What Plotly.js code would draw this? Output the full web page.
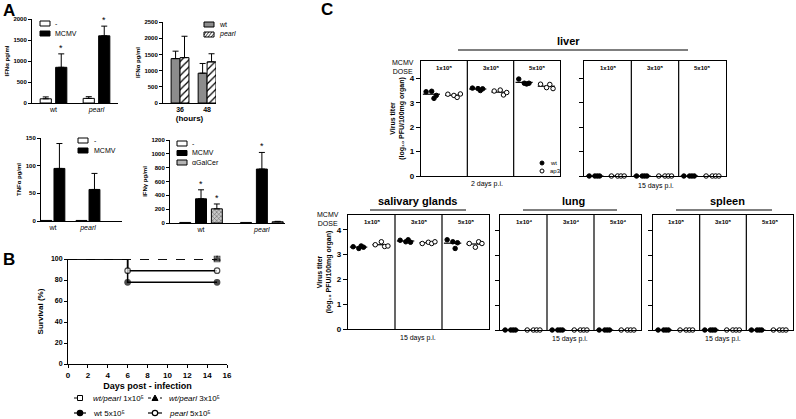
<!DOCTYPE html>
<html>
<head>
<meta charset="utf-8">
<script src="https://cdn.plot.ly/plotly-3.0.1.min.js"></script>
<style>
html,body{margin:0;padding:0;background:#fff;}
#chart{width:796px;height:419px;}
</style>
</head>
<body>
<div id="chart"></div>
<script>
// ================= DATA =================
// Panel A, top left: IFN-alpha (pg/ml)
const ifnaGroups = ['wt', 'pearl'];
const ifnaSeries = ['-', 'MCMV'];
const ifnaMock = [100, 110];
const ifnaMockErr = [45, 40];
const ifnaMcmv = [850, 1600];
const ifnaMcmvErr = [320, 230];
const ifnaMcmvSig = [true, true];

// Panel A, top right: IFN-alpha at 36 / 48 hours
const hoursCats = ['36', '48'];
const hoursSeries = ['wt', 'pearl'];
const hoursWt = [1370, 920];
const hoursWtErr = [230, 300];
const hoursPearl = [1400, 1270];
const hoursPearlErr = [660, 250];

// Panel A, bottom left: TNF-alpha (pg/ml)
const tnfGroups = ['wt', 'pearl'];
const tnfSeries = ['-', 'MCMV'];
const tnfMock = [1, 1];
const tnfMcmv = [95, 57];
const tnfMcmvErr = [45, 29];

// Panel A, bottom right: IFN-gamma (pg/ml)
const ifngGroups = ['wt', 'pearl'];
const ifngSeries = ['-', 'MCMV', 'αGalCer'];
const ifngMock = [8, 8];
const ifngMcmv = [350, 780];
const ifngMcmvErr = [130, 240];
const ifngGalcer = [205, 18];
const ifngGalcerErr = [70, 6];
const ifngMcmvSig = [true, true];
const ifngGalcerSig = [true, false];

// Panel B: survival (%)
const survDays = [0, 6, 15];
const survNames = ['<i>wt/pearl</i> 1x10⁵', '<i>wt/pearl</i> 3x10⁵', 'wt 5x10⁵', '<i>pearl</i> 5x10⁵'];
const survWtPearl1 = [100, 100, 100];
const survWtPearl3 = [100, 100, 100];
const survWt5 = [100, 77.8, 77.8];
const survPearl5 = [100, 88.9, 88.9];

// Panel C: virus titer (log10 PFU/100mg organ), 4 mice per group
const cSeries = ['wt', 'ap3'];
const dosesE5 = ['1x10⁵', '3x10⁵', '5x10⁵'];
const dosesE4 = ['1x10⁴', '3x10⁴', '5x10⁴'];
const liver2dWt  = [[3.45, 3.47, 3.18, 3.30], [3.60, 3.58, 3.50, 3.57], [3.97, 3.80, 3.77, 3.80]];
const liver2dAp3 = [[3.35, 3.30, 3.22, 3.36], [3.48, 3.52, 3.32, 3.42], [3.76, 3.62, 3.75, 3.58]];
const liver15Wt  = [[0, 0, 0, 0], [0, 0, 0, 0], [0, 0, 0, 0]];
const liver15Ap3 = [[0, 0, 0, 0], [0, 0, 0, 0], [0, 0, 0, 0]];
const salivaryWt  = [[3.32, 3.25, 3.35, 3.30], [3.58, 3.52, 3.60, 3.50], [3.60, 3.52, 3.25, 3.48]];
const salivaryAp3 = [[3.40, 3.52, 3.33, 3.35], [3.45, 3.50, 3.45, 3.52], [3.45, 3.30, 3.52, 3.45]];
const lungWt  = [[0, 0, 0, 0], [0, 0, 0, 0], [0, 0, 0, 0]];
const lungAp3 = [[0, 0, 0, 0], [0, 0, 0, 0], [0, 0, 0, 0]];
const spleenWt  = [[0, 0, 0, 0], [0, 0, 0, 0], [0, 0, 0, 0]];
const spleenAp3 = [[0, 0, 0, 0], [0, 0, 0, 0], [0, 0, 0, 0]];

// ================= HELPERS =================
const W = 796, H = 419;
const px = v => v / W;
const py = v => 1 - v / H;
const FONT = '"Liberation Sans", Arial, sans-serif';
const BLACK = '#000';
const ital = g => (g === 'pearl' ? '<i>pearl</i>' : g);
const mean = a => a.reduce((s, v) => s + v, 0) / a.length;
const f = (size, bold) => (bold ? {family: FONT, size: size, weight: 'bold', color: BLACK} : {family: FONT, size: size, color: BLACK});

const traces = [];
const shapes = [];
const annotations = [];

function note(x, y, text, opt) {
  annotations.push(Object.assign({
    xref: 'paper', yref: 'paper', x: px(x), y: py(y), text: text, showarrow: false,
    xanchor: 'center', yanchor: 'middle', font: f(7)
  }, opt || {}));
}
function keyRect(x0, y0, x1, y1, fill) {
  shapes.push({type: 'rect', xref: 'paper', yref: 'paper', x0: px(x0), x1: px(x1), y0: py(y1), y1: py(y0),
    fillcolor: fill, line: {color: BLACK, width: 1}});
}
function pline(x0, y0, x1, y1, w, dash) {
  shapes.push({type: 'line', xref: 'paper', yref: 'paper', x0: px(x0), x1: px(x1), y0: py(y0), y1: py(y1),
    line: {color: BLACK, width: w || 1, dash: dash || 'solid'}});
}

function bar(xa, ya, cats, vals, errs, style, offset, width) {
  const t = {
    type: 'bar', xaxis: xa, yaxis: ya, x: cats, y: vals, offset: offset, width: width,
    showlegend: false, hoverinfo: 'skip',
    marker: Object.assign({line: {color: BLACK, width: 1}}, style)
  };
  if (errs) t.error_y = {type: 'data', symmetric: false, array: errs, arrayminus: errs.map(() => 0),
    color: BLACK, thickness: 1, width: 3};
  traces.push(t);
}
function stars(xa, ya, vals, errs, sig, offset, width) {
  vals.forEach((v, i) => {
    if (!sig[i]) return;
    annotations.push({xref: xa, yref: ya, x: i + offset + width / 2, y: v + errs[i], text: '*',
      showarrow: false, yanchor: 'bottom', yshift: -1, font: f(9)});
  });
}

const baseAxis = {
  showgrid: false, zeroline: false, showline: true, linecolor: BLACK, linewidth: 1,
  ticks: 'outside', ticklen: 3, tickwidth: 1, tickcolor: BLACK, fixedrange: true,
  tickfont: f(6, true)
};
const ax = o => Object.assign({}, baseAxis, o);
const catAxis = (dom, range, cats, anchor) => ax({
  anchor: anchor, domain: [px(dom[0]), px(dom[1])], type: 'category', range: range, ticks: '',
  tickvals: cats, ticktext: cats.map(ital), tickfont: f(7)
});
const valAxis = (dom, range, dtick, title, anchor) => ax({
  anchor: anchor, domain: [py(dom[1]), py(dom[0])], range: range, dtick: dtick,
  tickfont: f(6, true), title: {text: title, standoff: 3, font: f(6, true)}
});

const layout = {
  width: W, height: H, margin: {l: 0, r: 0, t: 0, b: 0},
  paper_bgcolor: '#fff', plot_bgcolor: 'rgba(0,0,0,0)',
  showlegend: false, barmode: 'overlay', font: {family: FONT, color: BLACK}
};

// ================= PANEL A1: IFN-alpha =================
{
  const w = 0.26, g = 0.10;
  layout.xaxis = catAxis([32, 118], [-0.5, 1.5], ifnaGroups, 'y');
  layout.yaxis = valAxis([19, 103], [0, 2000], 500, 'IFNα pg/ml', 'x');
  bar('x', 'y', ifnaGroups, ifnaMock, ifnaMockErr, {color: '#fff'}, -(w + g / 2), w);
  bar('x', 'y', ifnaGroups, ifnaMcmv, ifnaMcmvErr, {color: BLACK}, g / 2, w);
  stars('x', 'y', ifnaMcmv, ifnaMcmvErr, ifnaMcmvSig, g / 2, w);
  const fills = ['#fff', BLACK];
  ifnaSeries.forEach((s, i) => {
    keyRect(40, 21 + i * 10, 50, 26 + i * 10, fills[i]);
    note(53, 23.5 + i * 10, s, {xanchor: 'left', font: f(7)});
  });
}

// ================= PANEL A2: IFN-alpha time course =================
{
  const w = 0.33;
  layout.xaxis2 = catAxis([163, 216], [-0.63, 1.33], hoursCats, 'y2');
  layout.xaxis2.tickfont = f(7, true);
  layout.xaxis2.title = {text: '(hours)', standoff: 2, font: f(8, true)};
  layout.yaxis2 = valAxis([22, 103], [0, 2500], 500, 'IFNα pg/ml', 'x2');
  bar('x2', 'y2', hoursCats, hoursWt, hoursWtErr, {color: '#8c8c8c'}, -w, w);
  bar('x2', 'y2', hoursCats, hoursPearl, hoursPearlErr,
    {color: '#fff', pattern: {shape: '/', fgcolor: BLACK, bgcolor: '#fff', size: 5, solidity: 0.25}}, 0, w);
  keyRect(204, 22, 214, 27, '#8c8c8c');
  keyRect(204, 32, 214, 37, '#fff');
  shapes.push({type: 'path', xref: 'paper', yref: 'paper',
    path: [[204, 35, 206, 32], [205, 37, 209, 32], [208, 37, 212, 32], [211, 37, 214, 33.5]]
      .map(s => `M${px(s[0])},${py(s[1])}L${px(s[2])},${py(s[3])}`).join(''),
    line: {color: BLACK, width: 0.8}});
  hoursSeries.forEach((s, i) => note(217, 24.5 + i * 10, ital(s), {xanchor: 'left'}));
}

// ================= PANEL A3: TNF-alpha =================
{
  const w = 0.31, g = 0.06;
  layout.xaxis3 = catAxis([41, 122], [-0.34, 1.97], tnfGroups, 'y3');
  layout.yaxis3 = valAxis([138, 221], [0, 150], 50, 'TNFα pg/ml', 'x3');
  bar('x3', 'y3', tnfGroups, tnfMock, null, {color: '#fff'}, -(w + g / 2), w);
  bar('x3', 'y3', tnfGroups, tnfMcmv, tnfMcmvErr, {color: BLACK}, g / 2, w);
  const fills = ['#fff', BLACK];
  tnfSeries.forEach((s, i) => {
    keyRect(78, 138 + i * 10, 88, 143 + i * 10, fills[i]);
    note(92, 140.5 + i * 10, s, {xanchor: 'left'});
  });
}

// ================= PANEL A4: IFN-gamma =================
{
  const w = 0.18, step = 0.26;
  layout.xaxis4 = catAxis([170, 285], [-0.51, 1.38], ifngGroups, 'y4');
  layout.yaxis4 = valAxis([140, 223], [0, 1200], 200, 'IFNγ pg/ml', 'x4');
  const galStyle = {color: '#b4b4b4', pattern: {shape: 'x', fgcolor: '#555', bgcolor: '#c8c8c8', size: 3, solidity: 0.3}};
  bar('x4', 'y4', ifngGroups, ifngMock, null, {color: '#fff'}, -w / 2 - step, w);
  bar('x4', 'y4', ifngGroups, ifngMcmv, ifngMcmvErr, {color: BLACK}, -w / 2, w);
  bar('x4', 'y4', ifngGroups, ifngGalcer, ifngGalcerErr, galStyle, -w / 2 + step, w);
  stars('x4', 'y4', ifngMcmv, ifngMcmvErr, ifngMcmvSig, -w / 2, w);
  stars('x4', 'y4', ifngGalcer, ifngGalcerErr, ifngGalcerSig, -w / 2 + step, w);
  const fills = ['#fff', BLACK, '#b4b4b4'];
  ifngSeries.forEach((s, i) => {
    keyRect(177, 141 + i * 9.5, 187, 146 + i * 9.5, fills[i]);
    note(190, 143.5 + i * 9.5, s, {xanchor: 'left'});
  });
}

// ================= PANEL B: survival =================
{
  layout.xaxis5 = ax({anchor: 'y5', domain: [px(68), px(227)], range: [0, 16], dtick: 2,
    tickfont: f(8, true), title: {text: 'Days post - infection', standoff: 4, font: f(9, true)}});
  layout.yaxis5 = ax({anchor: 'x5', domain: [py(364), py(259)], range: [0, 100], dtick: 20,
    tickfont: f(7, true), title: {text: 'Survival (%)', standoff: 6, font: f(8, true)}});
  const specs = [
    {y: survWtPearl1, dash: 'dash', symbol: 'square-open', color: BLACK},
    {y: survWtPearl3, dash: 'dash', symbol: 'triangle-up', color: BLACK},
    {y: survWt5, dash: 'solid', symbol: 'circle', color: BLACK},
    {y: survPearl5, dash: 'solid', symbol: 'circle', color: '#fff'}
  ];
  specs.forEach((s, k) => {
    const sizes = s.y.map((v, i) => (i === 0 ? 0 : (i === s.y.length - 1 || v !== s.y[i - 1]) ? 5.5 : 0));
    traces.push({type: 'scatter', mode: 'lines+markers', xaxis: 'x5', yaxis: 'y5', x: survDays, y: s.y,
      name: survNames[k], showlegend: false, cliponaxis: false, hoverinfo: 'skip',
      line: {shape: 'hv', color: BLACK, width: 1.5, dash: s.dash},
      marker: {symbol: s.symbol, size: sizes, color: s.color, line: {color: BLACK, width: 1.2}}});
  });
  // legend (two columns)
  const cols = [[74, 86, 91], [148, 162, 167]];
  const rows = [398, 413];
  const order = [[0, 0, 0], [1, 1, 0], [2, 0, 1], [3, 1, 1]]; // series, col, row
  order.forEach(o => {
    const [si, ci, ri] = o;
    const [x0, x1, tx] = cols[ci];
    const y = rows[ri];
    const mx = (x0 + x1) / 2;
    pline(x0, y, x1, y, 1.2, si < 2 ? 'dot' : 'solid');
    if (si === 0) keyRect(mx - 2.5, y - 2.5, mx + 2.5, y + 2.5, '#fff');
    if (si === 1) shapes.push({type: 'path', xref: 'paper', yref: 'paper', fillcolor: BLACK, line: {color: BLACK, width: 1},
      path: `M${px(mx - 3)},${py(y + 2.5)}L${px(mx + 3)},${py(y + 2.5)}L${px(mx)},${py(y - 3)}Z`});
    if (si >= 2) shapes.push({type: 'circle', xref: 'paper', yref: 'paper', x0: px(mx - 2.7), x1: px(mx + 2.7),
      y0: py(y + 2.7), y1: py(y - 2.7), fillcolor: si === 2 ? BLACK : '#fff', line: {color: BLACK, width: 1.2}});
    note(tx, y, survNames[si], {xanchor: 'left', font: f(8)});
  });
}

// ================= PANEL C: virus titers =================
const wtX = [1.1, 2.3, 2.8, 3.3];
const apX = [5.8, 7.1, 7.8, 8.5];
const cPanels = [
  {n: 6, x: [421, 560], y: [61, 176], top: 4.71, labels: true, doses: dosesE5, wt: liver2dWt, ap: liver2dAp3},
  {n: 7, x: [584, 726], y: [61, 176], top: 4.71, labels: false, doses: dosesE5, wt: liver15Wt, ap: liver15Ap3},
  {n: 8, x: [348, 489], y: [215, 329], top: 4.6, labels: true, doses: dosesE5, wt: salivaryWt, ap: salivaryAp3},
  {n: 9, x: [500, 641], y: [215, 330], top: 4.6, labels: false, doses: dosesE4, wt: lungWt, ap: lungAp3},
  {n: 10, x: [653, 793], y: [215, 330], top: 4.6, labels: false, doses: dosesE5, wt: spleenWt, ap: spleenAp3}
];
cPanels.forEach(p => {
  const xa = 'x' + p.n, ya = 'y' + p.n;
  layout['xaxis' + p.n] = ax({anchor: ya, domain: [px(p.x[0]), px(p.x[1])], range: [0, 30],
    ticks: '', showticklabels: false, mirror: true, linewidth: 1.2});
  const yax = ax({anchor: xa, domain: [py(p.y[1]), py(p.y[0])], range: [0, p.top], dtick: 1,
    ticklen: 4, mirror: true, linewidth: 1.2, showticklabels: p.labels, tickfont: f(8, true)});
  if (p.labels) yax.title = {text: 'Virus titer<br>(log₁₀ PFU/100mg organ)', standoff: 4, font: f(7, true)};
  layout['yaxis' + p.n] = yax;
  [10, 20].forEach(d => shapes.push({type: 'line', xref: xa, yref: ya + ' domain', x0: d, x1: d, y0: 0, y1: 1,
    line: {color: BLACK, width: 1.2}}));
  p.doses.forEach((d, i) => annotations.push({xref: xa, yref: ya + ' domain', x: i * 10 + 5, y: 0.985,
    yanchor: 'top', showarrow: false, text: d, font: f(6, true)}));
  for (let i = 0; i < 3; i++) {
    const base = i * 10;
    const groups = [
      {vals: p.wt[i], xs: wtX, fill: BLACK, lx: [0.4, 4.1]},
      {vals: p.ap[i], xs: apX, fill: '#fff', lx: [5.2, 8.9]}
    ];
    groups.forEach(g => {
      const m = mean(g.vals);
      traces.push({type: 'scatter', mode: 'lines', xaxis: xa, yaxis: ya, x: [base + g.lx[0], base + g.lx[1]], y: [m, m],
        showlegend: false, hoverinfo: 'skip', cliponaxis: false, line: {color: BLACK, width: 1.2}});
      traces.push({type: 'scatter', mode: 'markers', xaxis: xa, yaxis: ya, x: g.xs.map(v => base + v), y: g.vals,
        showlegend: false, hoverinfo: 'skip', cliponaxis: false,
        marker: {symbol: 'circle', size: 4.5, color: g.fill, line: {color: BLACK, width: 1}}});
    });
  }
});
// headings & notes for C
const organs = [
  {t: 'liver', cx: 568, y: 50, l: 458, r: 688},
  {t: 'salivary glands', cx: 418, y: 210, l: 370, r: 466},
  {t: 'lung', cx: 573, y: 210, l: 523, r: 617},
  {t: 'spleen', cx: 727, y: 210, l: 676, r: 772}
];
organs.forEach(o => {
  note(o.cx, o.y - 1, o.t, {yanchor: 'bottom', font: f(11, true)});
  pline(o.l, o.y, o.r, o.y, 1.2);
});
note(487, 184, '2 days p.i.', {font: f(7)});
note(656, 186, '15 days p.i.', {font: f(7)});
note(418, 338, '15 days p.i.', {font: f(7)});
note(570, 339, '15 days p.i.', {font: f(7)});
note(723, 339, '15 days p.i.', {font: f(7)});
note(403, 67, 'MCMV<br>DOSE', {font: f(7)});
note(328, 219, 'MCMV<br>DOSE', {font: f(7)});
// C legend (wt / ap3)
cSeries.forEach((s, i) => {
  const y = 163 + i * 8;
  shapes.push({type: 'circle', xref: 'paper', yref: 'paper', x0: px(540), x1: px(544), y0: py(y + 2), y1: py(y - 2),
    fillcolor: i === 0 ? BLACK : '#fff', line: {color: BLACK, width: 1}});
  note(548, y, s, {xanchor: 'left', font: f(6)});
});

// panel letters
note(1, 10, 'A', {xanchor: 'left', font: f(17, true)});
note(1, 259, 'B', {xanchor: 'left', font: f(17, true)});
note(319, 9, 'C', {xanchor: 'left', font: f(17, true)});

layout.shapes = shapes;
layout.annotations = annotations;
Plotly.newPlot('chart', traces, layout, {staticPlot: true, displayModeBar: false});
</script>
</body>
</html>
